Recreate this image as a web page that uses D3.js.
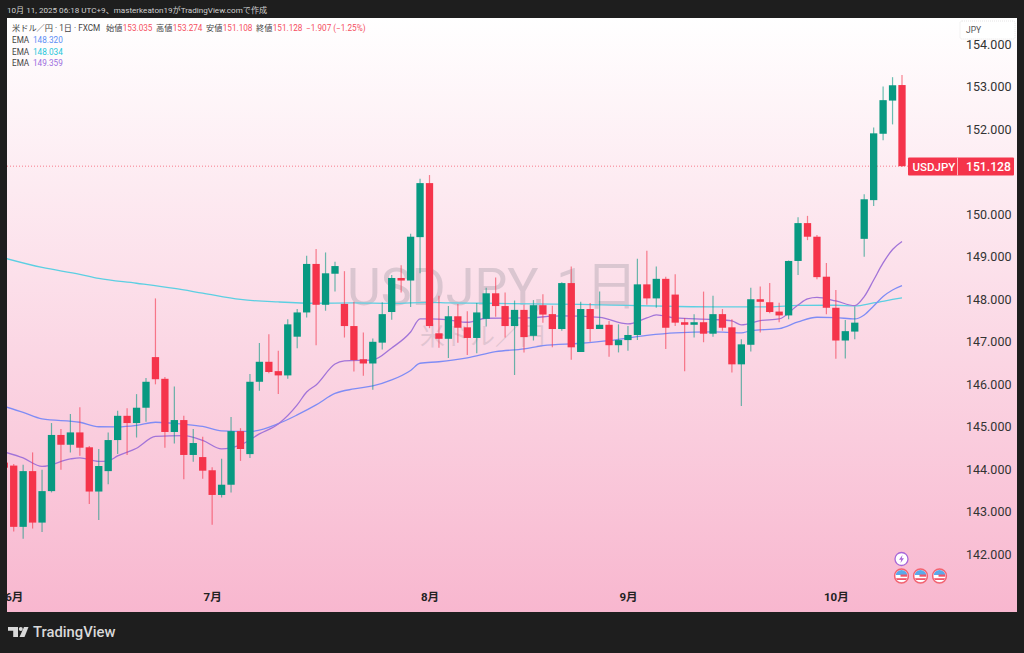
<!DOCTYPE html>
<html>
<head>
<meta charset="utf-8">
<style>
  html, body { margin: 0; padding: 0; background: #1e1e1e; }
  svg { display: block; }
  text { font-family: Roboto, "Noto Sans CJK JP", sans-serif; }
</style>
<script src="https://cdn.jsdelivr.net/npm/d3@7"></script>
</head>
<body>
<script>
// Width and height
var w = 1024;
var h = 653;

// Daily candles, first entry is the day just left of the chart (May 30)
var opens = [144.16,
  144.09, 142.65, 143.96, 142.75, 143.49, 144.81, 144.58, 144.87, 144.52, 143.48,
  143.96, 144.69, 145.26, 145.09, 145.45, 146.64, 146.13, 144.88, 145.16, 144.34,
  144.29, 143.98, 143.40, 143.64, 144.90, 144.36, 146.06, 146.53, 146.31, 146.21,
  147.12, 147.69, 148.83, 147.87, 148.60, 147.89, 147.37, 146.59, 146.49, 146.98,
  147.70, 148.50, 148.44, 149.46, 150.73, 147.20, 147.07, 147.60, 147.34, 147.09,
  147.54, 148.14, 147.84, 147.37, 147.75, 147.14, 147.86, 147.65, 147.30, 148.38,
  146.76, 147.77, 147.30, 147.40, 146.92, 147.04, 147.16, 148.35, 148.02, 148.48,
  148.11, 147.46, 147.40, 147.46, 147.19, 147.65, 147.34, 146.47, 146.93, 148.00,
  147.93, 147.71, 147.62, 148.90, 149.79, 149.47, 148.53, 147.80, 147.03, 147.24,
  149.42, 150.33, 151.89, 152.67, 153.035];
var highs = [144.20,
  144.13, 144.11, 144.40, 143.99, 145.09, 144.95, 145.30, 145.46, 144.55, 144.48,
  144.87, 145.38, 145.44, 145.77, 146.15, 148.02, 146.17, 145.95, 145.26, 144.95,
  144.77, 144.05, 144.25, 145.23, 144.97, 146.24, 146.97, 147.18, 146.79, 147.53,
  147.77, 149.02, 149.18, 149.10, 148.88, 148.66, 147.94, 147.22, 147.08, 147.93,
  148.57, 148.80, 149.54, 150.83, 150.92, 148.08, 147.84, 147.89, 147.72, 147.91,
  148.27, 148.51, 148.16, 147.97, 147.87, 147.98, 148.12, 147.85, 148.40, 148.77,
  147.94, 147.91, 148.18, 147.49, 147.41, 147.37, 148.95, 149.14, 148.77, 148.53,
  148.59, 147.56, 147.65, 148.18, 148.08, 147.77, 147.53, 147.06, 148.27, 148.30,
  148.38, 147.92, 148.91, 149.93, 149.96, 149.51, 148.85, 148.22, 147.51, 147.83,
  150.47, 152.04, 153.00, 153.22, 153.274];
var lows = [143.95,
  142.54, 142.37, 142.61, 142.53, 143.46, 143.99, 144.40, 144.32, 143.19, 142.81,
  143.65, 144.36, 144.34, 144.75, 145.12, 146.00, 144.51, 144.61, 143.77, 144.18,
  143.78, 142.70, 143.34, 143.46, 144.20, 144.27, 145.85, 146.26, 145.77, 146.13,
  146.85, 147.57, 146.92, 147.73, 148.18, 147.10, 146.30, 146.20, 145.87, 146.82,
  147.52, 148.16, 147.82, 148.61, 147.32, 146.86, 146.62, 146.98, 146.69, 146.73,
  147.36, 147.59, 147.10, 146.22, 146.75, 147.03, 147.45, 146.87, 147.26, 146.58,
  146.76, 147.00, 147.30, 146.65, 146.75, 146.79, 147.04, 147.87, 147.80, 146.83,
  147.37, 146.31, 147.10, 146.99, 147.12, 147.26, 146.28, 145.49, 146.77, 147.22,
  147.67, 147.46, 147.53, 148.57, 149.39, 148.47, 147.65, 146.60, 146.61, 147.06,
  149.00, 150.19, 151.74, 152.11, 151.108];
var closes = [144.04,
  142.65, 143.96, 142.75, 143.49, 144.81, 144.58, 144.87, 144.51, 143.48, 144.08,
  144.69, 145.26, 145.09, 145.45, 146.06, 146.12, 144.88, 145.16, 144.34, 144.62,
  143.97, 143.40, 143.64, 144.90, 144.48, 146.06, 146.53, 146.29, 146.21, 147.41,
  147.69, 148.83, 147.87, 148.61, 148.78, 147.37, 146.57, 146.49, 147.00, 147.65,
  148.50, 148.44, 149.47, 150.73, 147.37, 147.07, 147.60, 147.33, 147.09, 147.69,
  148.14, 147.84, 147.37, 147.75, 147.11, 147.86, 147.64, 147.30, 148.38, 146.87,
  147.77, 147.30, 147.40, 146.92, 147.04, 147.16, 148.35, 148.02, 148.48, 147.33,
  147.45, 147.40, 147.46, 147.19, 147.65, 147.33, 146.47, 146.94, 148.00, 147.94,
  147.70, 147.62, 148.90, 149.79, 149.47, 148.52, 147.80, 147.03, 147.25, 147.45,
  150.35, 151.90, 152.68, 153.03, 151.128];

// EMA lines at these candle numbers
var emaBlueDays = [-1, 1, 3, 7, 9, 11, 13, 15, 18, 20, 22, 25, 28, 30, 32, 34, 36, 38, 40, 42, 43, 45, 48, 51, 54, 56, 60, 63, 67, 70, 74, 77, 78, 81, 83, 85, 87, 89, 90, 91, 92, 93, 94];
var emaBlue = [145.481, 145.339, 145.187, 145.109, 145.003, 144.999, 145.034, 145.109, 145.062, 145.01, 144.905, 144.893, 145.076, 145.281, 145.516, 145.786, 145.892, 145.962, 146.103, 146.327, 146.496, 146.531, 146.62, 146.768, 146.832, 146.91, 146.966, 147.027, 147.149, 147.208, 147.231, 147.208, 147.262, 147.309, 147.466, 147.577, 147.568, 147.537, 147.631, 147.842, 148.066, 148.218, 148.32];
var emaCyanDays = [-1, 3, 7, 9, 13, 17, 20, 24, 28, 32, 36, 40, 44, 46, 50, 55, 60, 65, 70, 75, 80, 83, 87, 89, 91, 93, 94];
var emaCyan = [148.97, 148.747, 148.587, 148.489, 148.376, 148.254, 148.143, 147.995, 147.936, 147.906, 147.913, 147.901, 147.925, 147.913, 147.906, 147.889, 147.878, 147.854, 147.831, 147.819, 147.819, 147.854, 147.859, 147.842, 147.913, 147.995, 148.034];
var emaPurpleDays = [-1, 1, 3, 6, 7, 9, 10, 11, 13, 15, 18, 20, 22, 24, 26, 28, 30, 31, 32, 34, 35, 38, 40, 42, 43, 44, 46, 48, 50, 54, 58, 62, 65, 67, 68, 70, 74, 76, 77, 79, 81, 83, 84, 85, 87, 89, 90, 91, 92, 93, 94];
var emaPurple = [144.411, 144.27, 144.07, 144.247, 144.27, 144.188, 144.2, 144.317, 144.498, 144.775, 144.794, 144.681, 144.482, 144.576, 144.834, 145.069, 145.516, 145.821, 145.986, 146.479, 146.55, 146.573, 146.855, 147.231, 147.537, 147.537, 147.513, 147.459, 147.553, 147.56, 147.607, 147.572, 147.419, 147.56, 147.631, 147.56, 147.525, 147.49, 147.396, 147.497, 147.537, 147.866, 148.007, 148.042, 147.96, 147.85, 148.061, 148.453, 148.853, 149.17, 149.359];

// Axis labels (151 sits behind the price label, so it is left out)
var priceTicks = [154, 153, 152, 150, 149, 148, 147, 146, 145, 144, 143, 142];
var monthDays = [0, 21, 44, 65, 87];
var monthLabels = ["6月", "7月", "8月", "9月", "10月"];
var lastPrice = 151.128;

// Colors
var upColor = "#089981";
var downColor = "#f5344b";
var blueColor = "#7f8cf5";
var cyanColor = "#5ccfe2";
var purpleColor = "#a274d8";

// Put the candles together
var candles = opens.map(function(o, k) {
  return { day: k - 1, open: o, high: highs[k], low: lows[k], close: closes[k] };
});

// Create scale functions
var xScale = d3.scaleLinear().domain([0, 94]).range([13.7, 902]);
var yScale = d3.scaleLinear().domain([154, 142]).range([44, 554.5]);
var bodyWidth = 7.3;

// Create SVG element
var svg = d3.select("body")
            .append("svg")
            .attr("width", w)
            .attr("height", h);

var defs = svg.append("defs");

var grad = defs.append("linearGradient")
               .attr("id", "bg")
               .attr("x1", 0).attr("y1", 0)
               .attr("x2", 0).attr("y2", 1);
grad.append("stop").attr("offset", "0%").attr("stop-color", "#ffffff");
grad.append("stop").attr("offset", "100%").attr("stop-color", "#f8b7cf");

defs.append("clipPath").attr("id", "panelClip")
    .append("rect")
    .attr("x", 7).attr("y", 18)
    .attr("width", 1010).attr("height", 594);

// Page background and chart panel
svg.append("rect").attr("width", w).attr("height", h).attr("fill", "#1e1e1e");
svg.append("rect")
   .attr("x", 7).attr("y", 18)
   .attr("width", 1010).attr("height", 594)
   .attr("fill", "url(#bg)");

// Watermark
svg.append("text")
   .text("USDJPY, 1日")
   .attr("x", 347).attr("y", 305)
   .attr("font-size", "52px")
   .attr("fill", "#787b86")
   .attr("opacity", 0.25);
svg.append("text")
   .text("米ドル／円")
   .attr("x", 420).attr("y", 345)
   .attr("font-size", "25px")
   .attr("fill", "#787b86")
   .attr("opacity", 0.2);

var chart = svg.append("g").attr("clip-path", "url(#panelClip)");

// Last price line
chart.append("line")
   .attr("x1", 7).attr("x2", 908)
   .attr("y1", yScale(lastPrice)).attr("y2", yScale(lastPrice))
   .attr("stroke", downColor)
   .attr("stroke-width", 1)
   .attr("stroke-dasharray", "1 2")
   .attr("opacity", 0.6);

// EMA lines
function drawEma(days, values, color) {
  var line = d3.line()
               .x(function(d) { return xScale(d); })
               .y(function(d, i) { return yScale(values[i]); })
               .curve(d3.curveMonotoneX);
  chart.append("path")
       .attr("d", line(days))
       .attr("fill", "none")
       .attr("stroke", color)
       .attr("stroke-width", 1.3);
}
drawEma(emaCyanDays, emaCyan, cyanColor);
drawEma(emaBlueDays, emaBlue, blueColor);
drawEma(emaPurpleDays, emaPurple, purpleColor);

function candleColor(d) {
  return d.close >= d.open ? upColor : downColor;
}

// Wicks
chart.selectAll("line.wick")
  .data(candles)
  .enter()
  .append("line")
  .attr("class", "wick")
  .attr("x1", function(d) { return xScale(d.day); })
  .attr("x2", function(d) { return xScale(d.day); })
  .attr("y1", function(d) { return yScale(d.high); })
  .attr("y2", function(d) { return yScale(d.low); })
  .attr("stroke", candleColor)
  .attr("stroke-width", 1.2)
  .attr("opacity", 0.6);

// Candle bodies
chart.selectAll("rect.body")
  .data(candles)
  .enter()
  .append("rect")
  .attr("class", "body")
  .attr("x", function(d) { return xScale(d.day) - bodyWidth / 2; })
  .attr("y", function(d) { return yScale(Math.max(d.open, d.close)); })
  .attr("width", bodyWidth)
  .attr("height", function(d) { return Math.abs(yScale(d.open) - yScale(d.close)); })
  .attr("fill", candleColor);

// Y axis
var yAxis = d3.axisRight()
              .scale(yScale)
              .tickValues(priceTicks)
              .tickSize(0)
              .tickPadding(0)
              .tickFormat(d3.format(".3f"));
var yG = svg.append("g")
   .attr("transform", "translate(966,0)")
   .call(yAxis);
yG.select(".domain").remove();
yG.selectAll("text")
   .attr("font-family", "Roboto, sans-serif")
   .attr("font-size", "12.5px")
   .attr("fill", "#333");

// X axis
var xAxis = d3.axisBottom()
              .scale(xScale)
              .tickValues(monthDays)
              .tickSize(0)
              .tickPadding(0)
              .tickFormat(function(d, i) { return monthLabels[i]; });
var xG = chart.append("g")
   .attr("transform", "translate(0,593)")
   .call(xAxis);
xG.select(".domain").remove();
xG.selectAll("text")
   .attr("font-family", "Roboto, 'Noto Sans CJK JP', sans-serif")
   .attr("font-size", "11.5px")
   .attr("font-weight", "bold")
   .attr("fill", "#222");

// Currency box
svg.append("rect")
   .attr("x", 960).attr("y", 21)
   .attr("width", 55).attr("height", 18)
   .attr("rx", 2)
   .attr("fill", "#ffffff")
   .attr("stroke", "#e6e6e6")
   .attr("stroke-dasharray", "1 1");
svg.append("text")
   .text("JPY")
   .attr("x", 966).attr("y", 33)
   .attr("font-size", "8.5px")
   .attr("fill", "#555");

// Last price label
svg.append("rect")
   .attr("x", 908).attr("y", 157.5)
   .attr("width", 106).attr("height", 18)
   .attr("rx", 1)
   .attr("fill", downColor);
svg.append("line")
   .attr("x1", 957.5).attr("x2", 957.5)
   .attr("y1", 157.5).attr("y2", 175.5)
   .attr("stroke", "#ffb3bd");
svg.append("text")
   .text("USDJPY")
   .attr("x", 912.5).attr("y", 171)
   .attr("font-size", "11.5px")
   .attr("font-weight", "500")
   .attr("fill", "#fff");
svg.append("text")
   .text(d3.format(".3f")(lastPrice))
   .attr("x", 966).attr("y", 171)
   .attr("font-size", "12.2px")
   .attr("font-weight", "500")
   .attr("fill", "#fff");

// Header line above the panel
svg.append("text")
   .text("10月 11, 2025 06:18 UTC+9、masterkeaton19がTradingView.comで作成")
   .attr("x", 7).attr("y", 13)
   .attr("font-size", "8.1px")
   .attr("fill", "#cfcfcf");

// Legend
var legendFont = "8.2px";
var legendGrey = "#444";
var legendRed = "#f5505f";
var legendItems = [
  ["米ドル／円 · 1日 · FXCM", 12, legendGrey],
  ["始値", 106, legendGrey], ["153.035", 122.7, legendRed],
  ["高値", 156, legendGrey], ["153.274", 172.7, legendRed],
  ["安値", 206, legendGrey], ["151.108", 222.7, legendRed],
  ["終値", 256, legendGrey], ["151.128", 272.7, legendRed],
  ["−1.907 (−1.25%)", 306, legendRed]
];
svg.selectAll("text.legend")
  .data(legendItems)
  .enter()
  .append("text")
  .attr("class", "legend")
  .text(function(d) { return d[0]; })
  .attr("x", function(d) { return d[1]; })
  .attr("y", 31.3)
  .attr("font-size", legendFont)
  .attr("fill", function(d) { return d[2]; });

var emaLegend = [
  ["148.320", 42.6, "#5b8df5"],
  ["148.034", 54.6, "#26c6da"],
  ["149.359", 66.2, "#9c6fe0"]
];
emaLegend.forEach(function(d) {
  svg.append("text").text("EMA")
     .attr("x", 12).attr("y", d[1])
     .attr("font-size", legendFont).attr("fill", legendGrey);
  svg.append("text").text(d[0])
     .attr("x", 33).attr("y", d[1])
     .attr("font-size", legendFont).attr("fill", d[2]);
});

// Event icons
var boltIcon = svg.append("g").attr("transform", "translate(901.5,559)");
boltIcon.append("circle").attr("r", 6.5)
   .attr("fill", "#fff").attr("stroke", "#a868d8").attr("stroke-width", 1.3);
boltIcon.append("path")
   .attr("d", "M1,-4 L-2.5,0.8 L-0.3,0.8 L-1,4 L2.5,-0.8 L0.3,-0.8 Z")
   .attr("fill", "#a868d8");

defs.append("clipPath").attr("id", "flagClip")
    .append("circle").attr("r", 6);

[901.5, 920.5, 939.5].forEach(function(cx) {
  var icon = svg.append("g").attr("transform", "translate(" + cx + ",576)");
  var flag = icon.append("g").attr("clip-path", "url(#flagClip)");
  flag.append("rect").attr("x", -6).attr("y", -6).attr("width", 12).attr("height", 12).attr("fill", "#fff");
  flag.append("rect").attr("x", -6).attr("y", -6).attr("width", 12).attr("height", 5).attr("fill", "#5aa9ea");
  flag.append("rect").attr("x", -1).attr("y", -1.5).attr("width", 7).attr("height", 2.2).attr("fill", "#f0566a");
  flag.append("rect").attr("x", -6).attr("y", 2.2).attr("width", 12).attr("height", 1.8).attr("fill", "#f0566a");
  icon.append("circle").attr("r", 7)
     .attr("fill", "none").attr("stroke", "#f2636f").attr("stroke-width", 1.3);
});

// TradingView logo
var logo = svg.append("g").attr("fill", "#d9d9d9");
logo.append("path").attr("d", "M8,627 H18 V637 H13.2 V630.8 H8 Z");
logo.append("circle").attr("cx", 20.8).attr("cy", 629).attr("r", 2);
logo.append("path").attr("d", "M24,627 H28.5 L24.5,637 H19.5 Z");
logo.append("text")
   .text("TradingView")
   .attr("x", 33).attr("y", 637)
   .attr("font-size", "14.8px")
   .attr("font-weight", "500");
</script>
</body>
</html>
